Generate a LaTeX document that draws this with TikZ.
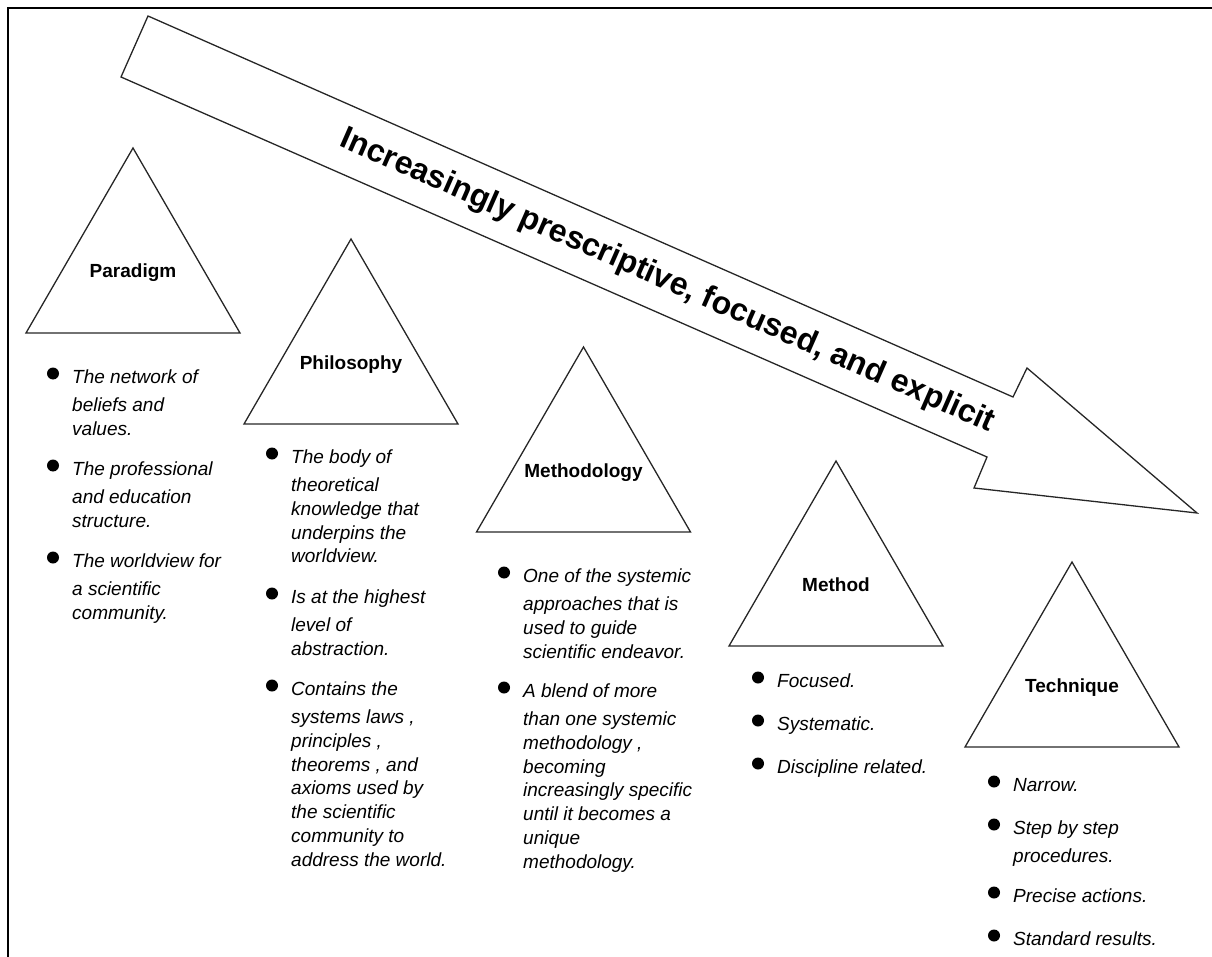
\documentclass[tikz,border=0pt]{standalone}
\usepackage{fontspec}
\setmainfont{Liberation Sans}
\newcommand\trig[4]{%
  \draw[tri] (#2-107,#3) -- (#2,#3-185) -- (#2+107,#3) -- cycle;
  \node[lbl] (#1) at (#2,#3-55) {#4};}
\newcommand\bitem[5]{%
  \fill (#2-19,#3-9.5) circle (6);
  \node[itx] (#1) at (#2,#3) {#4};
  \foreach \t [count=\i] in {#5} {\node[itx] (#1-\i) at (#2,{#3+28.5+(\i-1)*23.8}) {\t};}}
\newcommand\bsingle[4]{%
  \fill (#2-19,#3-9.5) circle (6);
  \node[itx] (#1) at (#2,#3) {#4};}
\begin{document}
\begin{tikzpicture}[x=1pt,y=-1pt,
  tri/.style={draw=black!85, line width=1.3pt, line join=miter},
  lbl/.style={font=\fontsize{19}{22}\selectfont\bfseries, inner sep=0pt, anchor=base},
  itx/.style={font=\fontsize{19}{22}\selectfont\itshape, inner sep=0pt, anchor=base west},
]
\useasboundingbox (0,0) rectangle (1212,957);
\draw[line width=2pt] (8,957) -- (8,8) -- (1212,8);
% big arrow
\draw[tri] (148,16) -- (1013,397) -- (1027,368) -- (1197,513) -- (974,488) -- (987,457) -- (121,77) -- cycle;
\node[font=\fontsize{32}{36}\selectfont\bfseries, rotate=-23.75, anchor=base, inner sep=0pt] (title) at (664,289) {Increasingly prescriptive, focused, and explicit};
% triangles
\trig{paradigm}{133}{333}{Paradigm}
\trig{philosophy}{351}{424}{Philosophy}
\trig{methodology}{583.5}{532}{Methodology}
\trig{method}{836}{646}{Method}
\trig{technique}{1072}{747}{Technique}
% Paradigm
\bitem{pa1}{72}{383}{The network of}{beliefs and,values.}
\bitem{pa2}{72}{475}{The professional}{and education,structure.}
\bitem{pa3}{72}{567}{The worldview for}{a scientific,community.}
% Philosophy
\bitem{ph1}{291}{463}{The body of}{theoretical,knowledge that,underpins the,worldview.}
\bitem{ph2}{291}{603}{Is at the highest}{level of,abstraction.}
\bitem{ph3}{291}{695}{Contains the}{{systems laws ,},{principles ,},{theorems , and},axioms used by,the scientific,community to,address the world.}
% Methodology
\bitem{mg1}{523}{582}{One of the systemic}{approaches that is,used to guide,scientific endeavor.}
\bitem{mg2}{523}{697}{A blend of more}{than one systemic,{methodology ,},becoming,increasingly specific,until it becomes a,unique,methodology.}
% Method
\bsingle{me1}{777}{687}{Focused.}
\bsingle{me2}{777}{730}{Systematic.}
\bsingle{me3}{777}{773}{Discipline related.}
% Technique
\bsingle{te1}{1013}{791}{Narrow.}
\bitem{te2}{1013}{834}{Step by step}{procedures.}
\bsingle{te3}{1013}{902}{Precise actions.}
\bsingle{te4}{1013}{945}{Standard results.}
\end{tikzpicture}
\end{document}
